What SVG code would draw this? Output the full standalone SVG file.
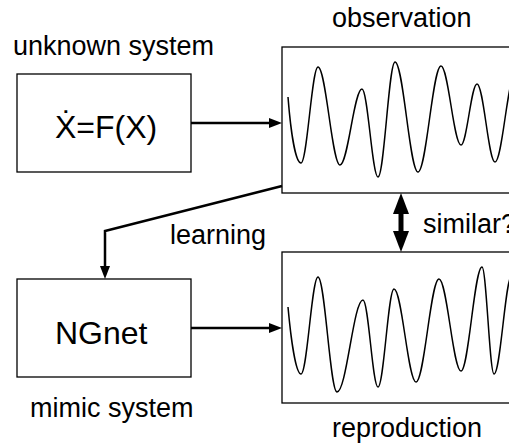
<svg xmlns="http://www.w3.org/2000/svg" width="509" height="443" viewBox="0 0 509 443">
<style>
text{font-family:"Liberation Sans",Arial,sans-serif;fill:#000}
.lbl{font-size:27px}
.big{font-size:32px}
.box{fill:#fff;stroke:#000;stroke-width:1.3}
.wave{fill:none;stroke:#000;stroke-width:1.5}
.conn{fill:none;stroke:#000;stroke-width:2.5}
</style>
<defs>
<marker id="ah" markerUnits="userSpaceOnUse" markerWidth="14" markerHeight="11" refX="5" refY="5" orient="auto">
<path d="M0,0 L13,5 L0,10 z" fill="#000"/>
</marker>
<marker id="bh" markerUnits="userSpaceOnUse" markerWidth="22" markerHeight="17" refX="6" refY="8" orient="auto-start-reverse">
<path d="M0,0 L21,8 L0,16 z" fill="#000"/>
</marker>
</defs>
<rect width="509" height="443" fill="#fff"/>
<g id="unknown">
<rect class="box" x="17" y="74" width="174" height="98"/>
<text class="big" x="55" y="138">Ẋ=F(X)</text>
<text class="lbl" x="13" y="55">unknown system</text>
</g>
<g id="observation">
<rect class="box" x="282" y="47" width="240" height="146"/>
<text class="lbl" x="332" y="27">observation</text>
<path class="wave" d="M288,97 C291,135 296,163 301,163 C307.2,163 311.8,67 318,67 C326,67 332,165 340,165 C348,165 354,89 362,89 C367.8,89 372.2,177 378,177 C384.2,177 388.8,62 395,62 C403.4,62 409.6,172 418,172 C426.4,172 432.6,66 441,66 C448.3,66 453.7,145 461,145 C466.8,145 471.2,84 477,84 C483.6,84 488.4,162 495,162 C502.3,162 507.7,75 515,75"/>
</g>
<g id="ngnet">
<rect class="box" x="17" y="279" width="174" height="98"/>
<text class="big" x="55" y="344">NGnet</text>
<text class="lbl" x="30" y="417">mimic system</text>
</g>
<g id="reproduction">
<rect class="box" x="282" y="252" width="240" height="151"/>
<text class="lbl" x="332" y="437">reproduction</text>
<path class="wave" d="M288,307 C291,340 296,374 301,374 C307.2,374 311.8,277 318,277 C324.9,277 330.1,392 337,392 C346.5,392 353.5,300 363,300 C368.5,300 372.5,387 378,387 C383.8,387 388.2,289 394,289 C402,289 408,382 416,382 C424.4,382 430.6,279 439,279 C447,279 453,371 461,371 C468.6,371 474.4,267 482,267 C486.4,267 489.6,374 494,374 C500.6,374 505.4,275 512,275"/>
</g>
<g id="connectors">
<line class="conn" x1="191" y1="123" x2="274" y2="123" marker-end="url(#ah)"/>
<line class="conn" x1="191" y1="328" x2="274" y2="328" marker-end="url(#ah)"/>
<polyline class="conn" points="282,186 105,231 105,271" marker-end="url(#ah)"/>
<line stroke="#000" stroke-width="5" x1="401" y1="208" x2="401" y2="237" marker-start="url(#bh)" marker-end="url(#bh)"/>
<text class="lbl" x="170" y="244">learning</text>
<text class="lbl" x="423" y="233">similar?</text>
</g>
</svg>
